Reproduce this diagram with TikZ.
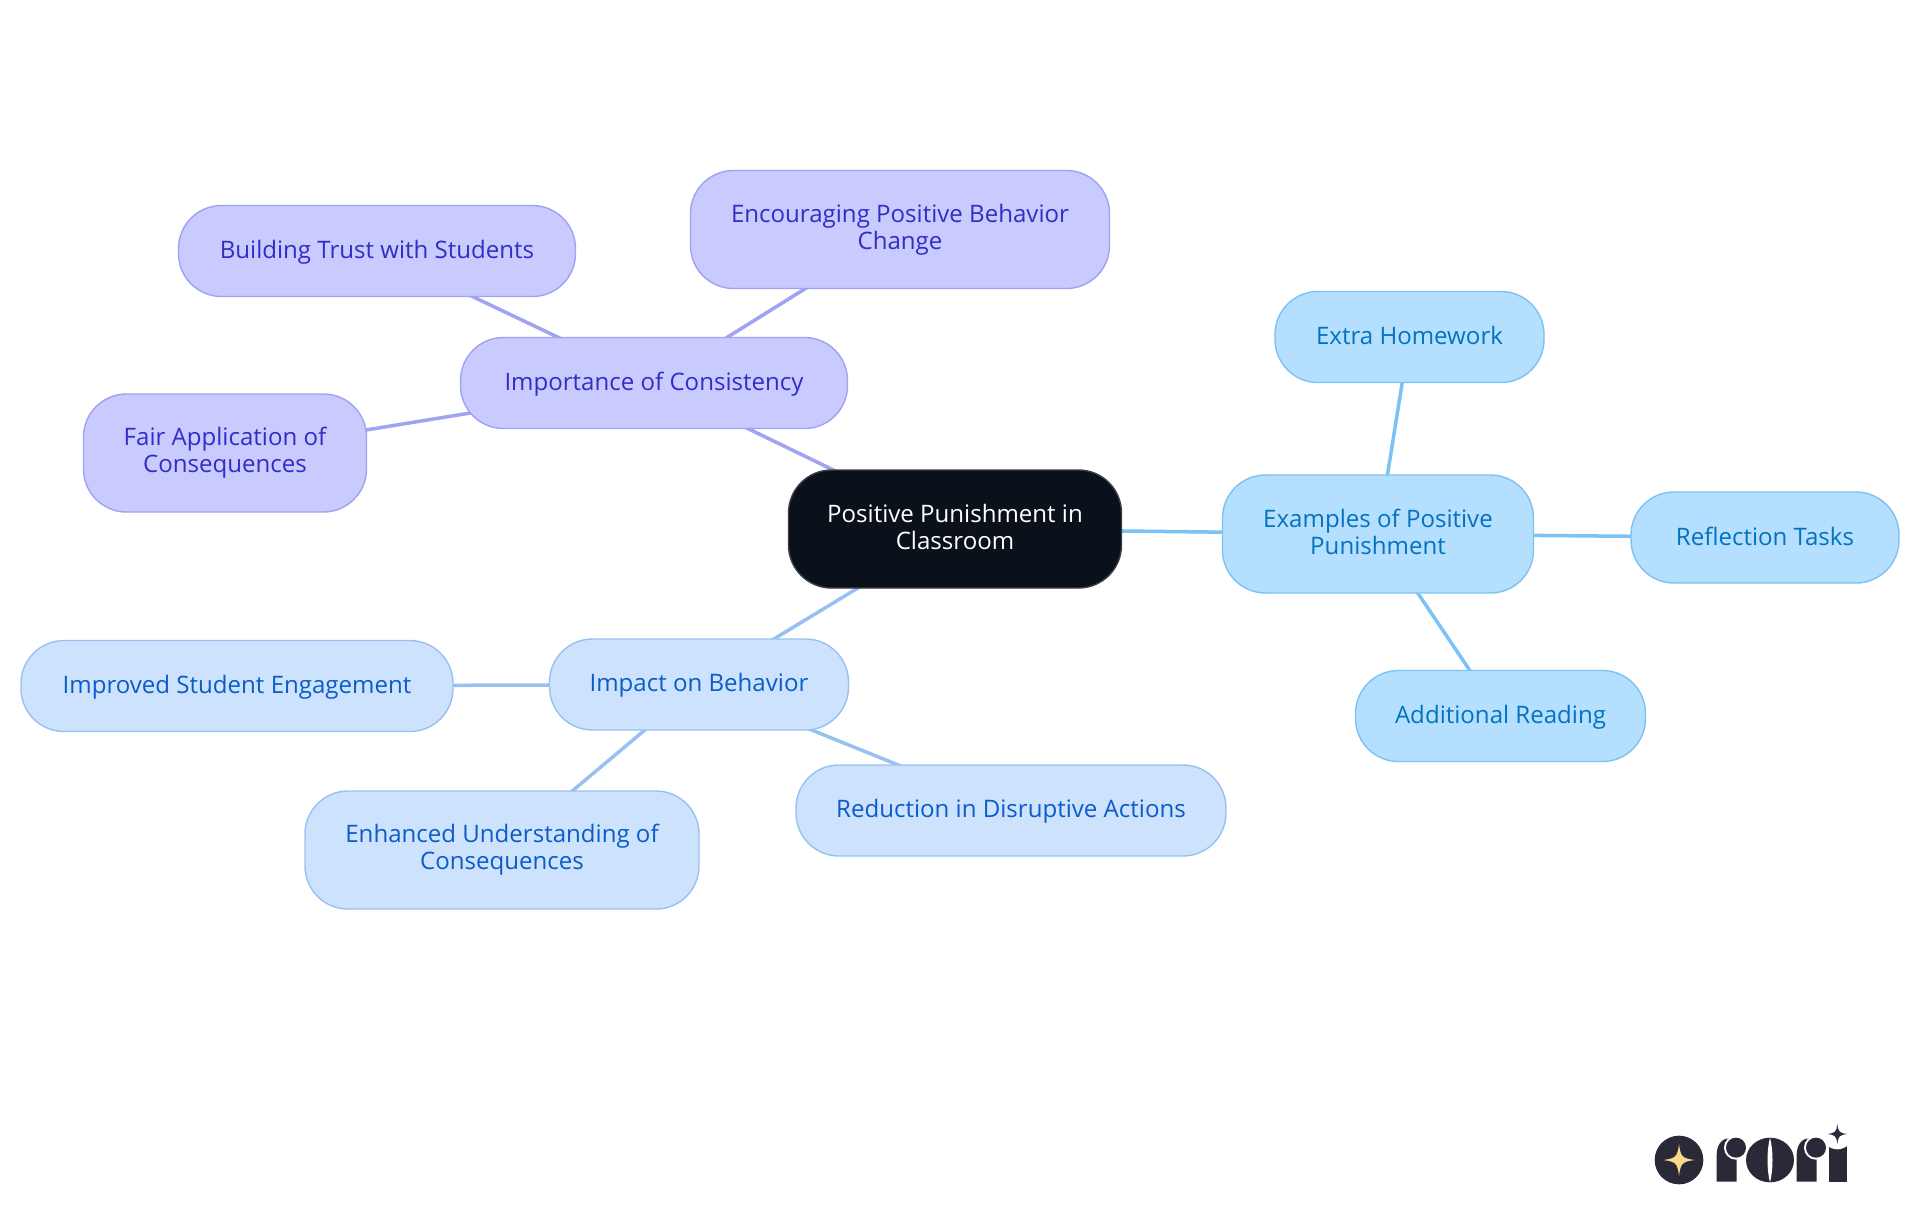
\documentclass[tikz,border=0pt]{standalone}
\usepackage{fontspec}
\setmainfont{Open Sans}
\usetikzlibrary{backgrounds}
\definecolor{rootfill}{HTML}{0B111A}
\definecolor{rootline}{HTML}{3A3F47}
\definecolor{purplefill}{HTML}{C9CAFD}
\definecolor{purpleline}{HTML}{A0A2F2}
\definecolor{purpletext}{HTML}{332DC8}
\definecolor{bluefill}{HTML}{CDE2FC}
\definecolor{blueline}{HTML}{98C1F2}
\definecolor{bluetext}{HTML}{0B5CC9}
\definecolor{skyfill}{HTML}{B4DFFE}
\definecolor{skyline}{HTML}{7CC2F3}
\definecolor{skytext}{HTML}{0472BF}
\definecolor{logodark}{HTML}{2A2937}
\definecolor{logogold}{HTML}{FBD98A}
\def\ux{0.02cm}
\newcommand{\mapstrut}{\rule[-2.6pt]{0pt}{14.1pt}}
\tikzset{
 mapbox/.style 2 args={draw, rounded corners=43*\ux, inner sep=0pt, align=center, line width=0.8pt,
   minimum width=#1*\ux, minimum height=#2*\ux,
   font=\fontsize{13.7}{15.3}\selectfont,
   execute at begin node=\mapstrut, execute at end node=\mapstrut},
 rootbox/.style={fill=rootfill, draw=rootline, text=white},
 purplebox/.style={fill=purplefill, draw=purpleline, text=purpletext},
 bluebox/.style={fill=bluefill, draw=blueline, text=bluetext},
 skybox/.style={fill=skyfill, draw=skyline, text=skytext},
 purplelink/.style={draw=purpleline, line width=2pt},
 bluelink/.style={draw=blueline, line width=2pt},
 skylink/.style={draw=skyline, line width=2pt},
 sparkle/.pic={\begin{scope}[x=#1*\ux/3, y=#1*\ux/3]
   \fill (0,-1) .. controls (0.1,-0.2) and (0.2,-0.1) .. (1,0)
   .. controls (0.2,0.1) and (0.1,0.2) .. (0,1)
   .. controls (-0.1,0.2) and (-0.2,0.1) .. (-1,0)
   .. controls (-0.2,-0.1) and (-0.1,-0.2) .. (0,-1) -- cycle;
   \end{scope}}
}
\begin{document}
\begin{tikzpicture}[x=\ux, y=-\ux, line join=round]
\useasboundingbox (0,0) rectangle (1920,1215);
\node[mapbox={333}{118}, rootbox] (root) at (955,529) {Positive Punishment in\\Classroom};
\node[mapbox={387}{91}, purplebox] (consistency) at (654,383) {Importance of Consistency};
\node[mapbox={419}{118}, purplebox] (change) at (900,229.5) {Encouraging Positive Behavior\\Change};
\node[mapbox={397}{91}, purplebox] (trust) at (377,251) {Building Trust with Students};
\node[mapbox={283}{118}, purplebox] (fair) at (225,453) {Fair Application of\\Consequences};
\node[mapbox={311}{118}, skybox] (examples) at (1378,534) {Examples of Positive\\Punishment};
\node[mapbox={269}{91}, skybox] (homework) at (1409.5,337) {Extra Homework};
\node[mapbox={268}{91}, skybox] (reflection) at (1765,537.5) {Reflection Tasks};
\node[mapbox={290}{91}, skybox] (reading) at (1500.5,716) {Additional Reading};
\node[mapbox={299}{91}, bluebox] (impact) at (699,684.5) {Impact on Behavior};
\node[mapbox={432}{91}, bluebox] (engagement) at (237,686) {Improved Student Engagement};
\node[mapbox={394}{118}, bluebox] (understanding) at (502,850) {Enhanced Understanding of\\Consequences};
\node[mapbox={430}{91}, bluebox] (reduction) at (1011,810.5) {Reduction in Disruptive Actions};
\begin{scope}[on background layer]
\draw[purplelink] (root.center)--(consistency.center);
\draw[purplelink] (consistency.center)--(change.center) (consistency.center)--(trust.center) (consistency.center)--(fair.center);
\draw[skylink] (root.center)--(examples.center);
\draw[skylink] (examples.center)--(homework.center) (examples.center)--(reflection.center) (examples.center)--(reading.center);
\draw[bluelink] (root.center)--(impact.center);
\draw[bluelink] (impact.center)--(engagement.center) (impact.center)--(understanding.center) (impact.center)--(reduction.center);
\end{scope}
\begin{scope}[shift={(1620,1100)}, x=\ux/3, y=-\ux/3]
\fill[logodark] (177,180) circle (73);
\pic[logogold] at (177,180) {sparkle=48};
\fill[logodark] (290,245)--(290,165) .. controls (290,135) and (305,115) .. (328,115)--(350,130)--(350,245)--cycle;
\fill[white] (348,143) circle (36);
\fill[logodark] (348,143) circle (30);
\fill[logodark] (450,180) ellipse (72 and 67);
\fill[white] (450,113) .. controls (460,150) and (460,210) .. (450,247) .. controls (440,210) and (440,150) .. (450,113)--cycle;
\fill[logodark] (530,245)--(530,165) .. controls (530,135) and (545,115) .. (568,115)--(590,130)--(590,245)--cycle;
\fill[white] (588,143) circle (36);
\fill[logodark] (588,143) circle (30);
\fill[logodark] (627,245)--(627,135)--(680,135)--(680,245)--cycle;
\fill[white] (652,102) circle (46);
\pic[logodark] at (652,102) {sparkle=30};
\end{scope}
\end{tikzpicture}
\end{document}
